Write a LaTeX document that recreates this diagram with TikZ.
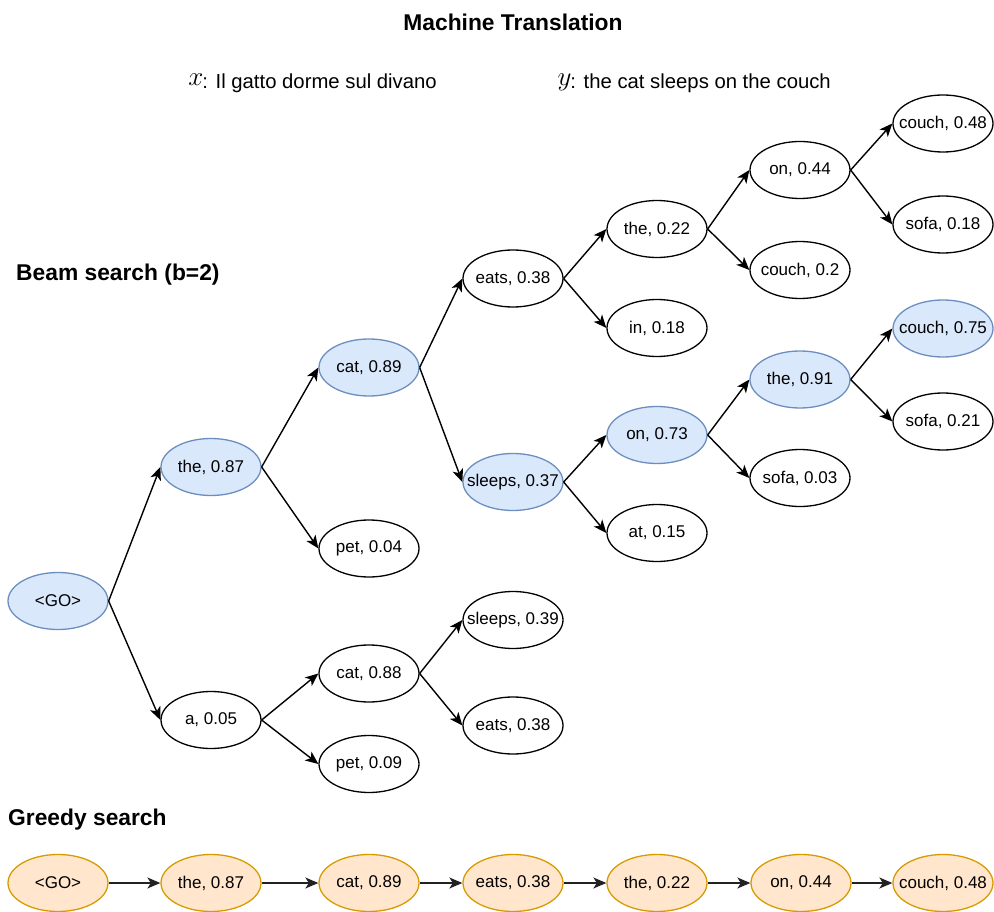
\documentclass[tikz,border=0pt]{standalone}
\usepackage{fontspec}
\setmainfont{Liberation Sans}
\usetikzlibrary{shapes.geometric,arrows.meta}

\definecolor{beamfill}{HTML}{DAE8FC}
\definecolor{beamline}{HTML}{6C8EBF}
\definecolor{greedyfill}{HTML}{FFE6CC}
\definecolor{greedyline}{HTML}{D79B00}
\definecolor{greedyarrow}{HTML}{222222}

% raised, enlarged math symbol in front of the sentence lines
\newcommand{\seqsym}[1]{\raisebox{3.5pt}{\scalebox{1.3}{$#1$}}}

\tikzset{
  tok/.style={ellipse, draw=black, line width=1.3pt, fill=white,
    minimum width=100pt, minimum height=57pt, inner sep=0pt,
    font=\fontsize{17}{20}\selectfont,
    execute at begin node={\hbox to 0pt\bgroup\hss},
    execute at end node={\hss\egroup}},
  beam/.style={tok, fill=beamfill, draw=beamline},
  greedy/.style={tok, fill=greedyfill, draw=greedyline},
  link/.style={line width=1.4pt, -{Stealth[length=13pt,width=11pt,inset=3.5pt]}},
  glink/.style={link, draw=greedyarrow},
  heading/.style={font=\fontsize{22.8}{26}\selectfont\bfseries, inner sep=0pt},
  subline/.style={font=\fontsize{20.3}{24}\selectfont, inner sep=0pt}
}

\begin{document}
\begin{tikzpicture}[x=1pt, y=-1pt]
\useasboundingbox (0,0) rectangle (994,912);

% headings
\node[heading] (title) at (513,22) {Machine Translation};
\node[subline, anchor=base east] (src) at (437,89) {\seqsym{x}\kern-1pt: Il gatto dorme sul divano};
\node[subline, anchor=base east] (tgt) at (831,89) {\seqsym{y}\kern-1pt: the cat sleeps on the couch};
\node[heading, anchor=base west] (beamhead) at (16,280) {Beam search (b=2)};
\node[heading, anchor=base west] (greedyhead) at (8,825) {Greedy search};

% beam search tree
\node[beam] (go) at (58,601) {<GO>};
\node[beam] (the87) at (211,467) {the, 0.87};
\node[tok]  (a05) at (211,720) {a, 0.05};
\node[beam] (cat89) at (369,367.5) {cat, 0.89};
\node[tok]  (pet04) at (369,548.5) {pet, 0.04};
\node[tok]  (cat88) at (369,673.5) {cat, 0.88};
\node[tok]  (pet09) at (369,764) {pet, 0.09};
\node[tok]  (eats38) at (513,278.5) {eats, 0.38};
\node[beam] (sleeps37) at (513,482) {sleeps, 0.37};
\node[tok]  (sleeps39) at (513,620) {sleeps, 0.39};
\node[tok]  (eats38b) at (513,725.5) {eats, 0.38};
\node[tok]  (the22) at (657,229) {the, 0.22};
\node[tok]  (in18) at (657,328) {in, 0.18};
\node[beam] (on73) at (657,435) {on, 0.73};
\node[tok]  (at15) at (657,533) {at, 0.15};
\node[tok]  (on44) at (800,170) {on, 0.44};
\node[tok]  (couch2) at (800,270) {couch, 0.2};
\node[beam] (the91) at (800,379.5) {the, 0.91};
\node[tok]  (sofa03) at (800,478) {sofa, 0.03};
\node[tok]  (couch48) at (943,123.5) {couch, 0.48};
\node[tok]  (sofa18) at (943,224.5) {sofa, 0.18};
\node[beam] (couch75) at (943,328.5) {couch, 0.75};
\node[tok]  (sofa21) at (943,421.5) {sofa, 0.21};

\foreach \a/\b in {go/the87, go/a05, the87/cat89, the87/pet04, a05/cat88, a05/pet09,
  cat89/eats38, cat89/sleeps37, cat88/sleeps39, cat88/eats38b,
  eats38/the22, eats38/in18, sleeps37/on73, sleeps37/at15,
  the22/on44, the22/couch2, on73/the91, on73/sofa03,
  on44/couch48, on44/sofa18, the91/couch75, the91/sofa21}
  \draw[link] (\a.east) -- (\b.west);

% greedy search chain
\node[greedy] (g1) at (58,883) {<GO>};
\node[greedy] (g2) at (211,883) {the, 0.87};
\node[greedy] (g3) at (369,883) {cat, 0.89};
\node[greedy] (g4) at (513,883) {eats, 0.38};
\node[greedy] (g5) at (657,883) {the, 0.22};
\node[greedy] (g6) at (801,883) {on, 0.44};
\node[greedy] (g7) at (943,883) {couch, 0.48};

\foreach \a/\b in {g1/g2, g2/g3, g3/g4, g4/g5, g5/g6, g6/g7}
  \draw[glink] (\a.east) -- (\b.west);
\end{tikzpicture}
\end{document}
